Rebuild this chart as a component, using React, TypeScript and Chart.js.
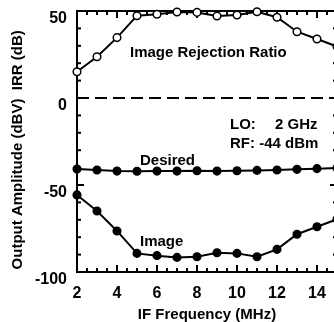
import React, { useEffect, useRef } from "react";
import { Chart, registerables } from "chart.js";

Chart.register(...registerables);

// ---- data ----
const freqs = [2, 3, 4, 5, 6, 7, 8, 9, 10, 11, 12, 13, 14, 15];
const irr = [15.1, 23.7, 34.7, 47.3, 48.1, 49.4, 49.2, 47.1, 47.7, 49.6, 46.4, 38.1, 33.9, 29.6];
const desired = [-40.8, -41.4, -42.0, -42.1, -42.0, -42.0, -41.8, -42.0, -41.8, -41.6, -41.4, -41.0, -40.6, -40.2];
const image = [-55.7, -64.9, -76.4, -89.3, -90.6, -91.6, -91.2, -88.9, -89.3, -91.2, -87.0, -78.3, -74.0, -69.7];
const xTickLabels = [2, 4, 6, 8, 10, 12, 14];
const yTickLabels = [50, 0, -50, -100];
const xRange = [2, 15];
const yRange = [-100, 50];

const FONT = "'Liberation Sans', Arial, Helvetica, sans-serif";

const framePlugin = {
  id: "frame",
  beforeDatasetsDraw(chart: any) {
    const { ctx, chartArea, scales } = chart;
    const { left, right, top, bottom } = chartArea;
    const x = scales.x;
    const y = scales.y;
    ctx.save();
    ctx.strokeStyle = "#000";
    // dashed zero line
    ctx.lineWidth = 2;
    ctx.setLineDash([12, 6]);
    const y0 = y.getPixelForValue(0);
    ctx.beginPath();
    ctx.moveTo(left, y0);
    ctx.lineTo(right, y0);
    ctx.stroke();
    ctx.setLineDash([]);
    // inward tick marks
    ctx.lineWidth = 2;
    const seg = (a: number, b: number, c: number, d: number) => {
      ctx.beginPath();
      ctx.moveTo(a, b);
      ctx.lineTo(c, d);
      ctx.stroke();
    };
    for (let v = yRange[0]; v <= yRange[1]; v += 10) {
      const p = y.getPixelForValue(v);
      const len = yTickLabels.includes(v) ? 7 : 4;
      seg(left, p, left + len, p);
      seg(right, p, right - len, p);
    }
    for (let v = xRange[0]; v <= xRange[1]; v += 0.5) {
      const p = x.getPixelForValue(v);
      const len = xTickLabels.includes(v) ? 7 : 4;
      seg(p, bottom, p, bottom - len);
      seg(p, top, p, top + len);
    }
    // frame
    ctx.lineWidth = 2;
    ctx.strokeRect(left, top, right - left, bottom - top);
    ctx.restore();
  },
  afterDraw(chart: any) {
    const { ctx, scales } = chart;
    const x = scales.x;
    const y = scales.y;
    ctx.save();
    ctx.fillStyle = "#000";
    ctx.textBaseline = "alphabetic";
    ctx.textAlign = "left";
    ctx.font = `bold 15px ${FONT}`;
    const put = (t: string, dx: number, dy: number) =>
      ctx.fillText(t, x.getPixelForValue(dx), y.getPixelForValue(dy));
    put("Image Rejection Ratio", 4.65, 23.6);
    put("Desired", 5.15, -38.5);
    put("Image", 5.15, -84.9);
    put("LO:", 9.65, -18.0);
    put("2 GHz", 11.9, -18.0);
    put("RF: -44 dBm", 9.65, -28.9);
    ctx.restore();
  },
};

const noPad = (s: any) => {
  s.paddingTop = 0;
  s.paddingBottom = 0;
  s.paddingLeft = 0;
  s.paddingRight = 0;
};

export default function App() {
  const ref = useRef<HTMLCanvasElement | null>(null);
  useEffect(() => {
    if (!ref.current) return;
    const lineCommon = {
      borderColor: "#000",
      borderWidth: 2,
      pointRadius: 3.8,
      pointBorderWidth: 1.5,
      pointBorderColor: "#000",
      tension: 0,
      clip: false as any,
    };
    const chart = new Chart(ref.current, {
      type: "line",
      data: {
        datasets: [
          {
            ...lineCommon,
            label: "IRR",
            data: freqs.map((f, i) => ({ x: f, y: irr[i] })),
            pointBackgroundColor: "#fff",
          },
          {
            ...lineCommon,
            label: "Desired",
            data: freqs.map((f, i) => ({ x: f, y: desired[i] })),
            pointBackgroundColor: "#000",
          },
          {
            ...lineCommon,
            label: "Image",
            data: freqs.map((f, i) => ({ x: f, y: image[i] })),
            pointBackgroundColor: "#000",
          },
        ],
      },
      options: {
        animation: false,
        responsive: false,
        devicePixelRatio: 1,
        layout: { autoPadding: false, padding: { top: 11, right: 3, left: 0, bottom: 0 } },
        plugins: { legend: { display: false }, tooltip: { enabled: false } },
        scales: {
          x: {
            type: "linear",
            min: xRange[0],
            max: xRange[1],
            grid: { display: false, drawTicks: false },
            border: { display: false },
            afterFit: (s: any) => {
              s.height = 52;
              noPad(s);
            },
            afterBuildTicks: (s: any) => {
              s.ticks = xTickLabels.map((v) => ({ value: v }));
            },
            ticks: {
              autoSkip: false,
              maxRotation: 0,
              padding: 12,
              color: "#000",
              font: { family: FONT, size: 16, weight: "bold" },
              callback: (v: any) => String(v),
            },
            title: {
              display: true,
              text: "IF Frequency (MHz)",
              color: "#000",
              font: { family: FONT, size: 15, weight: "bold" },
              padding: { top: 0, bottom: 0 },
            },
          },
          y: {
            type: "linear",
            min: yRange[0],
            max: yRange[1],
            grid: { display: false, drawTicks: false },
            border: { display: false },
            afterFit: (s: any) => {
              s.width = 77;
              noPad(s);
            },
            afterBuildTicks: (s: any) => {
              s.ticks = yTickLabels.map((v) => ({ value: v }));
            },
            ticks: {
              autoSkip: false,
              padding: 10,
              labelOffset: 8,
              color: "#000",
              font: { family: FONT, size: 16, weight: "bold" },
              callback: (v: any) => String(v),
            },
            title: {
              display: true,
              text: "Output Amplitude (dBV)  IRR (dB)    ",
              color: "#000",
              font: { family: FONT, size: 15, weight: "bold" },
              padding: { top: 9, bottom: 0 },
            },
          },
        },
      },
      plugins: [framePlugin],
    });
    return () => chart.destroy();
  }, []);
  return (
    <div
      style={{
        position: "fixed",
        left: 0,
        top: 0,
        width: 334,
        height: 322,
        overflow: "hidden",
        background: "#fff",
      }}
    >
      <canvas ref={ref} width={340} height={324} style={{ display: "block" }} />
    </div>
  );
}
